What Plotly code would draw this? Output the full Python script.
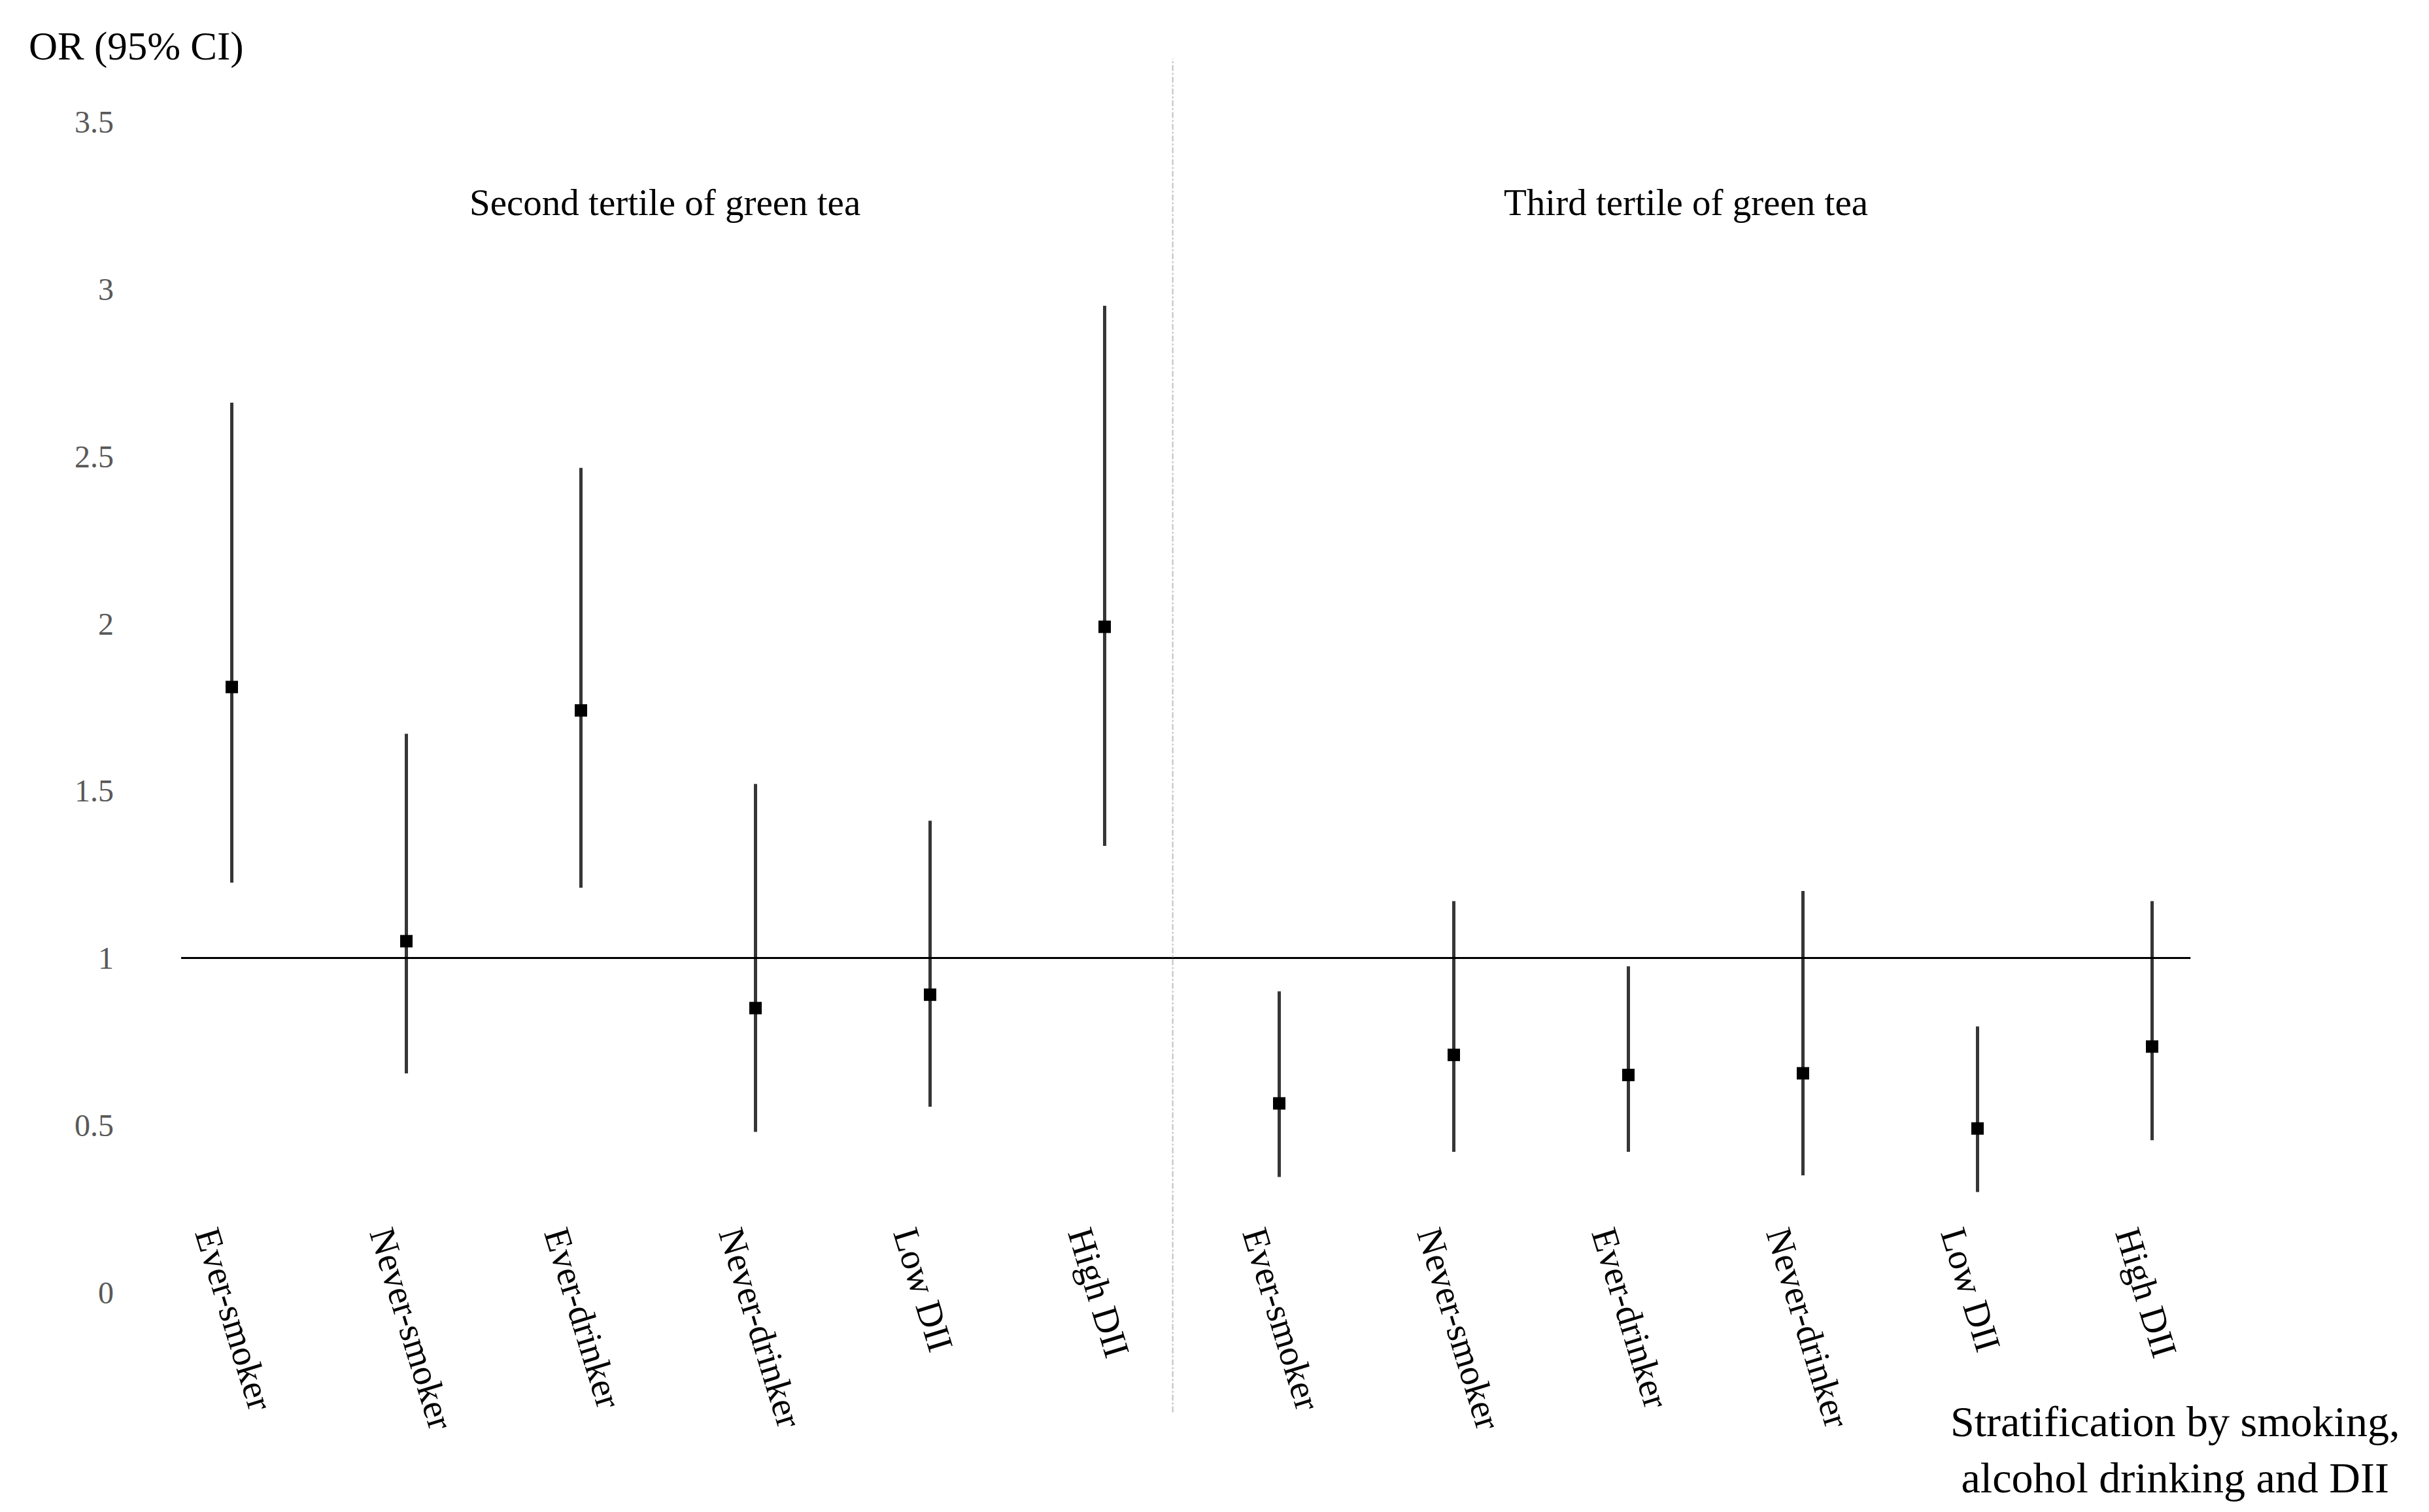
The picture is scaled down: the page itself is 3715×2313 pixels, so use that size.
import plotly.graph_objs as go

# Odds ratios (95% CI)
categories = ["Ever-smoker", "Never-smoker", "Ever-drinker", "Never-drinker", "Low DII", "High DII",
              "Ever-smoker", "Never-smoker", "Ever-drinker", "Never-drinker", "Low DII", "High DII"]
or_values = [1.81, 1.05, 1.74, 0.85, 0.89, 1.99,
             0.565, 0.71, 0.65, 0.655, 0.49, 0.735]
ci_upper = [2.66, 1.67, 2.465, 1.52, 1.41, 2.95,
            0.90, 1.17, 0.975, 1.20, 0.795, 1.17]
ci_lower = [1.225, 0.655, 1.21, 0.48, 0.555, 1.335,
            0.345, 0.42, 0.42, 0.35, 0.30, 0.455]
group_titles = ["Second tertile of green tea", "Third tertile of green tea"]
y_ticks = [0, 0.5, 1, 1.5, 2, 2.5, 3, 3.5]

FONT = "Liberation Serif"
x_pos = list(range(len(categories)))

trace = go.Scatter(
    x=x_pos,
    y=or_values,
    mode="markers",
    marker=dict(symbol="square", size=19, color="black"),
    error_y=dict(
        type="data",
        symmetric=False,
        array=[u - v for u, v in zip(ci_upper, or_values)],
        arrayminus=[v - l for v, l in zip(or_values, ci_lower)],
        color="#363636",
        thickness=5,
        width=0
    ),
    showlegend=False
)

layout = go.Layout(
    width=3715,
    height=2313,
    margin=dict(l=213, r=298, t=76, b=344),
    paper_bgcolor="white",
    plot_bgcolor="white",
    font=dict(family=FONT, color="black"),
    xaxis=dict(
        range=[-0.5, 11.5],
        tickvals=x_pos,
        ticktext=categories,
        tickangle=73,
        tickfont=dict(family=FONT, size=56, color="black"),
        showgrid=False,
        zeroline=False,
        showline=False,
        ticks="",
        anchor="free",
        position=0.068,
        ticklabelshift=-30
    ),
    yaxis=dict(
        range=[0, 3.7],
        tickvals=y_ticks,
        tickfont=dict(family=FONT, size=48, color="#595959"),
        showgrid=False,
        zeroline=False,
        showline=False,
        ticks="",
        ticklabelstandoff=46
    ),
    shapes=[
        # reference line at OR = 1
        dict(type="line", xref="x", yref="y", x0=-0.29, x1=11.22, y0=1, y1=1,
             line=dict(color="black", width=3)),
        # divider between tertiles
        dict(type="line", xref="x", yref="paper", x0=5.39, x1=5.39, y0=-0.097, y1=0.997,
             line=dict(color="#c0c0c0", width=2, dash="dashdot"))
    ],
    annotations=[
        dict(text="OR (95% CI)", xref="paper", yref="paper", x=-0.056, y=1.007,
             xanchor="left", yanchor="middle", showarrow=False,
             font=dict(family=FONT, size=61, color="black")),
        dict(text=group_titles[0], xref="x", yref="y", x=2.48, y=3.26,
             showarrow=False, font=dict(family=FONT, size=57, color="black")),
        dict(text=group_titles[1], xref="x", yref="y", x=8.33, y=3.26,
             showarrow=False, font=dict(family=FONT, size=57, color="black")),
        dict(text="Stratification by smoking,<br>alcohol drinking and DII",
             xref="paper", yref="paper", x=1.077, y=-0.127, align="center",
             xanchor="right", yanchor="middle", showarrow=False,
             font=dict(family=FONT, size=66, color="black"))
    ]
)

fig = go.Figure(data=[trace], layout=layout)
fig.write_html("out.html")
